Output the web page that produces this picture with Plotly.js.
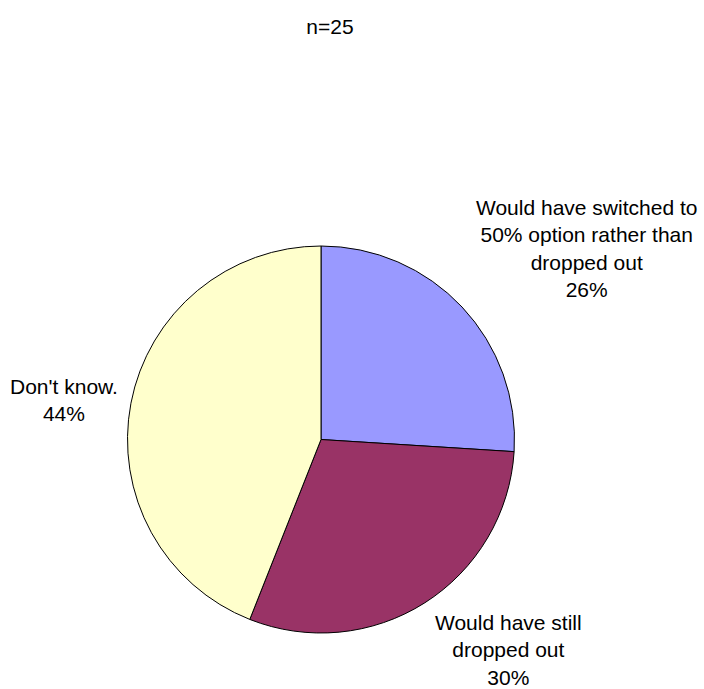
<!DOCTYPE html>
<html>
<head>
<meta charset="utf-8">
<script src="https://cdn.plot.ly/plotly-3.0.1.min.js"></script>
<style>html,body{margin:0;padding:0;background:#fff;}#chart{width:704px;height:689px;}</style>
</head>
<body>
<div id="chart"></div>
<script>
const categories = ["Would have switched to<br>50% option rather than<br>dropped out", "Would have still<br>dropped out", "Don't know."];
const values = [26, 30, 44];
const colors = ["#9999FF", "#993366", "#FFFFCC"];
const titleText = "n=25";

const labelPos = [
  {x: 586, y: 248},
  {x: 508, y: 650},
  {x: 64, y: 400}
];
const W = 704, H = 689;
const fontFam = "Liberation Sans, Arial, sans-serif";

const annotations = categories.map((c, i) => ({
  text: c + "<br>" + values[i] + "%",
  xref: "paper", yref: "paper",
  x: labelPos[i].x / W, y: 1 - labelPos[i].y / H,
  xanchor: "center", yanchor: "middle",
  showarrow: false, align: "center", borderpad: 0,
  font: {family: fontFam, size: 21, color: "#000"}
}));

const trace = {
  type: "pie",
  labels: categories,
  values: values,
  sort: false,
  direction: "clockwise",
  rotation: 0,
  marker: {colors: colors, line: {color: "#000", width: 1}},
  textinfo: "none",
  hoverinfo: "label+percent",
  domain: {x: [127 / W, 515 / W], y: [1 - 633 / H, 1 - 246 / H]},
  showlegend: false
};

const layout = {
  width: W, height: H,
  margin: {l: 0, r: 0, t: 0, b: 0},
  paper_bgcolor: "#fff",
  plot_bgcolor: "#fff",
  title: {text: titleText, x: 330 / W, xanchor: "center", y: 1 - 27 / H, yanchor: "middle",
          font: {family: fontFam, size: 21, color: "#000"}},
  annotations: annotations,
  showlegend: false
};

Plotly.newPlot("chart", [trace], layout, {displayModeBar: false, staticPlot: true});
</script>
</body>
</html>
